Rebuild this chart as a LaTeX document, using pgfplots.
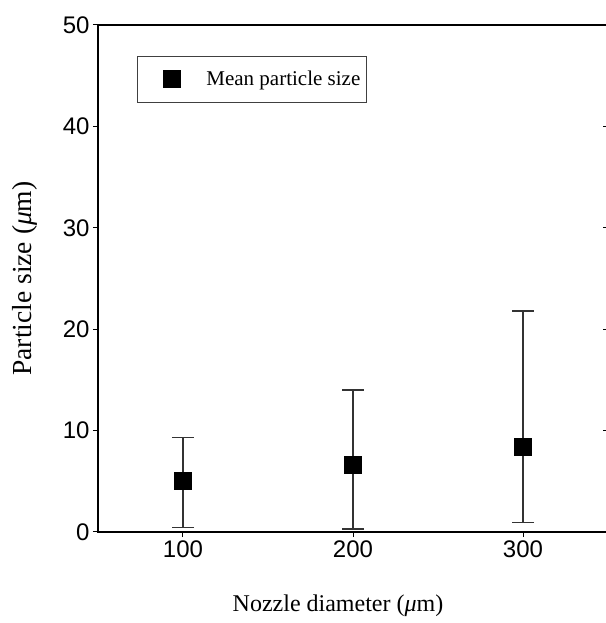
\documentclass[border=0pt]{standalone}
\usepackage{fontspec}
\setmainfont{Liberation Serif}
\newfontfamily\arial{Liberation Sans}
\usepackage{pgfplots}
\pgfplotsset{compat=1.18}
\usetikzlibrary{calc}

\begin{document}
\begin{tikzpicture}
\begin{axis}[
    scale only axis,
    width=510pt, height=507pt,
    xmin=50, xmax=350, ymin=0, ymax=50,
    xtick={100,200,300}, ytick={0,10,...,50},
    xtick pos=bottom, ytick pos=left,
    tick align=outside,
    major tick length=5pt,
    axis line style={line width=1.2pt},
    tick style={line width=1pt, black},
    ticklabel style={font=\fontsize{24}{28}\selectfont\arial},
    /pgf/number format/assume math mode=true,
    xlabel={Nozzle diameter ({\itshape μ}m)},
    ylabel={Particle size ({\itshape μ}m)},
    xlabel style={font=\fontsize{24}{28}\selectfont, yshift=-30pt, xshift=-15pt},
    ylabel style={font=\fontsize{27.5}{32}\selectfont, yshift=19pt},
    legend style={at={(rel axis cs:0.0765,0.939)}, anchor=north west,
        draw=black!75, line width=0.8pt, inner xsep=4pt, inner ysep=13pt,
        font=\fontsize{21}{25}\selectfont},
    legend image code/.code={
        \path[draw=none] (0pt,0pt) -- (63pt,0pt);
        \fill[black] (22pt,-8.5pt) rectangle (39pt,8.5pt);
    },
]
\addplot+[only marks, mark=square*, mark size=8.5pt, black,
    mark options={fill=black, draw=black},
    error bars/.cd, y dir=both, y explicit,
    error bar style={line width=1.2pt, black!80},
    error mark options={rotate=90, mark size=11pt, line width=1.2pt, black!80}]
coordinates {
    (100,5.10) += (0,4.23) -= (0,4.67)
    (200,6.60) += (0,7.40) -= (0,6.30)
    (300,8.38) += (0,13.42) -= (0,7.46)
};
\addlegendentry{Mean particle size}
\pgfplotsinvokeforeach{10,20,30,40}{
    \draw[line width=1pt] (axis cs:350,#1) -- ++(-5pt,0pt);
}
\coordinate (sw) at (rel axis cs:0,0);
\coordinate (ne) at (rel axis cs:1,1);
\end{axis}
\pgfresetboundingbox
\path[use as bounding box] ($(sw)+(-98pt,-91pt)$) rectangle ($(ne)+(-3pt,25pt)$);
\end{tikzpicture}
\end{document}
